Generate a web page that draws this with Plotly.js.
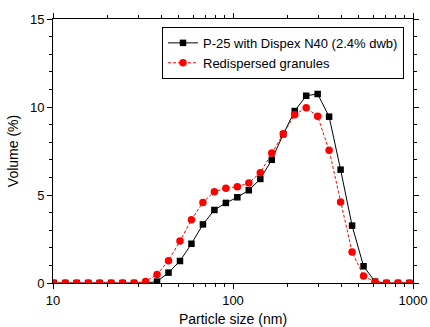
<!DOCTYPE html>
<html><head><meta charset="utf-8">
<script src="https://cdn.plot.ly/plotly-3.0.1.min.js"></script>
<style>html,body{margin:0;padding:0;background:#fff}#c{width:430px;height:327px}</style>
</head><body><div id="c"></div>
<script>
const sizes = [10.1, 11.7, 13.54, 15.69, 18.17, 21.04, 24.36, 28.21, 32.67, 37.84, 43.82, 50.75, 58.77, 68.06, 78.82, 91.28, 105.7, 122.4, 141.8, 164.2, 190.1, 220.2, 255.0, 295.3, 342.0, 396.1, 458.7, 531.2, 615.1, 712.4, 825.0, 955.4];
const p25 = [0, 0, 0, 0, 0, 0, 0, 0, 0, 0.08, 0.59, 1.25, 2.23, 3.33, 4.15, 4.55, 4.87, 5.27, 5.91, 7.0, 8.45, 9.77, 10.64, 10.74, 9.45, 6.44, 3.26, 0.95, 0.08, 0, 0, 0];
const redisp = [0, 0, 0, 0, 0, 0, 0, 0, 0.08, 0.49, 1.27, 2.39, 3.6, 4.58, 5.19, 5.38, 5.47, 5.68, 6.27, 7.39, 8.48, 9.56, 9.96, 9.47, 7.54, 4.6, 1.76, 0.4, 0.06, 0, 0, 0];
const names = ['P-25 with Dispex N40 (2.4% dwb)', 'Redispersed granules'];

const font = 'Liberation Sans, Arial, sans-serif';
const traces = [
  {x: sizes, y: p25, name: names[0], mode: 'lines+markers',
   line: {color: '#000000', width: 1},
   marker: {symbol: 'square', size: 6.5, color: '#000000'}},
  {x: sizes, y: redisp, name: names[1], mode: 'lines+markers',
   line: {color: '#ff0000', width: 1, dash: '3px,2px'},
   marker: {symbol: 'circle', size: 7.5, color: '#ff0000'}}
];
const layout = {
  width: 430, height: 327,
  margin: {l: 53, r: 17, t: 19, b: 44},
  paper_bgcolor: '#fff', plot_bgcolor: '#fff',
  font: {family: font, size: 13, color: '#000'},
  showlegend: true,
  legend: {x: 0.975, y: 0.97, xanchor: 'right', yanchor: 'top',
    bordercolor: '#000', borderwidth: 1, bgcolor: '#fff',
    font: {family: font, size: 13}, tracegroupgap: 0, itemwidth: 30},
  xaxis: {type: 'log', range: [1, 3], tickvals: [10, 100, 1000], ticktext: ['10', '100', '1000'],
    showline: true, linecolor: '#000', linewidth: 1, mirror: 'ticks',
    ticks: 'outside', ticklen: 5, tickcolor: '#000', showgrid: false, zeroline: false,
    minor: {ticks: 'outside', ticklen: 3, tickcolor: '#000', dtick: 'D1', showgrid: false},
    tickfont: {family: font, size: 13},
    title: {text: 'Particle size (nm)', font: {family: font, size: 14}, standoff: 8}},
  yaxis: {range: [0, 15], dtick: 5, showline: true, linecolor: '#000', linewidth: 1, mirror: 'ticks',
    ticks: 'outside', ticklen: 5, tickcolor: '#000', showgrid: false, zeroline: false,
    minor: {ticks: 'outside', ticklen: 3, tickcolor: '#000', dtick: 1, showgrid: false},
    tickfont: {family: font, size: 13},
    title: {text: 'Volume (%)', font: {family: font, size: 14}, standoff: 8}}
};
Plotly.newPlot('c', traces, layout, {displayModeBar: false, staticPlot: true});
</script></body></html>
